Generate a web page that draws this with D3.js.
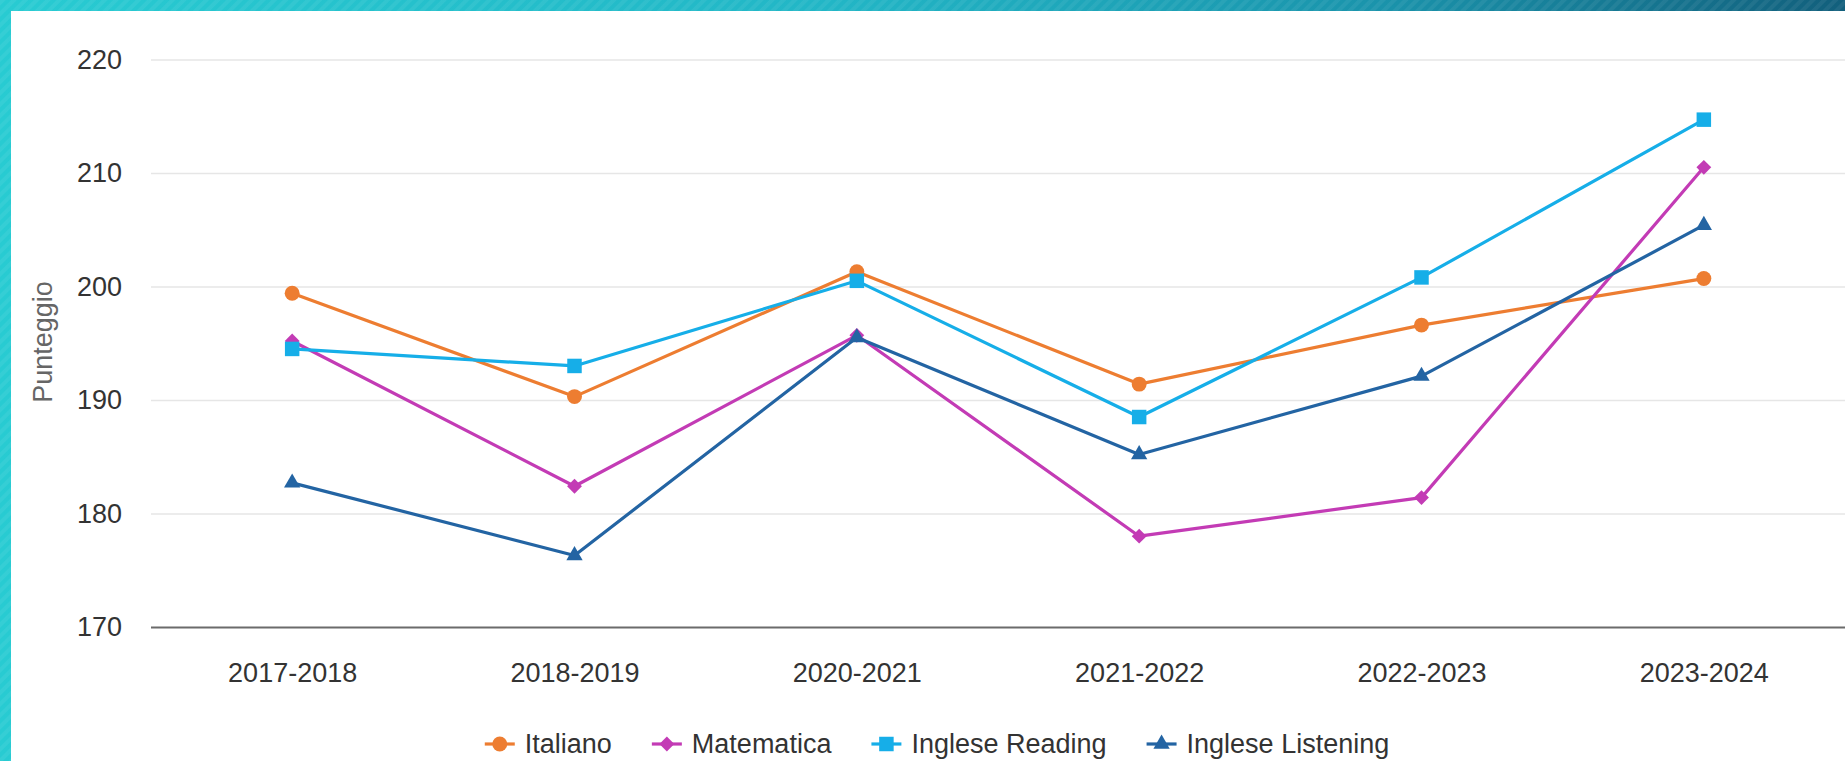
<!DOCTYPE html>
<html>
<head>
<meta charset="utf-8">
<script src="https://cdn.jsdelivr.net/npm/d3@7/dist/d3.min.js"></script>
<style>
  html, body { margin: 0; padding: 0; background: #fff; }
  svg { display: block; font-family: "Liberation Sans", Arial, sans-serif; }
</style>
</head>
<body>
<svg id="chart" width="1845" height="761"></svg>
<script>
// ---- data ----
const categories = ["2017-2018", "2018-2019", "2020-2021", "2021-2022", "2022-2023", "2023-2024"];
const italiano = [199.4, 190.3, 201.3, 191.4, 196.6, 200.7];
const matematica = [195.2, 182.4, 195.7, 178.0, 181.4, 210.5];
const ingleseReading = [194.5, 193.0, 200.5, 188.5, 200.8, 214.7];
const ingleseListening = [182.7, 176.3, 195.5, 185.2, 192.1, 205.4];
const seriesNames = ["Italiano", "Matematica", "Inglese Reading", "Inglese Listening"];
const yTicks = [170, 180, 190, 200, 210, 220];
const yTitle = "Punteggio";

const series = [
  { name: seriesNames[0], values: italiano, color: "#ED7D31", symbol: d3.symbolCircle, size: 175 },
  { name: seriesNames[1], values: matematica, color: "#C33BB5", symbol: d3.symbolDiamond2, size: 140 },
  { name: seriesNames[2], values: ingleseReading, color: "#16AEE8", symbol: d3.symbolSquare, size: 210 },
  { name: seriesNames[3], values: ingleseListening, color: "#2364A3", symbol: d3.symbolTriangle, size: 115 }
];

const W = 1845, H = 761;
const svg = d3.select("#chart");
const defs = svg.append("defs");

// background frame: teal gradient with diagonal stripes
const grad = defs.append("linearGradient").attr("id", "bg").attr("x1", 0).attr("y1", 0).attr("x2", 1).attr("y2", 0);
grad.append("stop").attr("offset", "0%").attr("stop-color", "#28cbd2");
grad.append("stop").attr("offset", "45%").attr("stop-color", "#22b6c6");
grad.append("stop").attr("offset", "75%").attr("stop-color", "#1a93ab");
grad.append("stop").attr("offset", "100%").attr("stop-color", "#125f7c");
const pat = defs.append("pattern").attr("id", "stripes").attr("width", 8).attr("height", 8)
  .attr("patternUnits", "userSpaceOnUse").attr("patternTransform", "rotate(45)");
pat.append("rect").attr("width", 4).attr("height", 8).attr("fill", "#ffffff").attr("opacity", 0.06);

svg.append("rect").attr("width", W).attr("height", H).attr("fill", "url(#bg)");
svg.append("rect").attr("width", W).attr("height", H).attr("fill", "url(#stripes)");
svg.append("rect").attr("x", 11).attr("y", 11).attr("width", W - 11).attr("height", H - 11).attr("fill", "#ffffff");

// scales
const x = d3.scalePoint().domain(categories).range([151, 1845]).padding(0.5);
const y = d3.scaleLinear().domain([170, 220]).range([627, 59.5]);

// gridlines + y tick labels
const yAxis = svg.append("g").attr("transform", "translate(151,0)")
  .call(d3.axisLeft(y).tickValues(yTicks).tickSize(-(1845 - 151)).tickPadding(29).tickFormat(d3.format("d")));
yAxis.select(".domain").remove();
yAxis.selectAll(".tick line").attr("stroke", d => d === 170 ? "#6b6b6b" : "#e6e6e6")
  .attr("stroke-width", d => d === 170 ? 2 : 1.6);
yAxis.selectAll(".tick text").attr("fill", "#333").attr("font-size", 27)
  .attr("font-family", "Liberation Sans, Arial, sans-serif");

// x axis labels
const xAxis = svg.append("g").attr("transform", "translate(0,627)")
  .call(d3.axisBottom(x).tickSize(0).tickPadding(0));
xAxis.select(".domain").remove();
xAxis.selectAll(".tick text").attr("fill", "#333").attr("font-size", 27)
  .attr("font-family", "Liberation Sans, Arial, sans-serif").attr("dy", null).attr("y", 55);

// y title
svg.append("text").attr("transform", "translate(52,342) rotate(-90)")
  .attr("text-anchor", "middle").attr("fill", "#666").attr("font-size", 27).text(yTitle);

// lines and markers
const line = d3.line().x((d, i) => x(categories[i])).y(d => y(d));
series.forEach(s => {
  svg.append("path").datum(s.values).attr("d", line).attr("fill", "none")
    .attr("stroke", s.color).attr("stroke-width", 3.2).attr("stroke-linejoin", "round");
  svg.append("g").selectAll("path").data(s.values).join("path")
    .attr("transform", (d, i) => `translate(${x(categories[i])},${y(d)})`)
    .attr("d", d3.symbol().type(s.symbol).size(s.size)).attr("fill", s.color);
});

// legend
const legend = svg.append("g");
let cx = 0;
const ly = 744;
series.forEach(s => {
  const g = legend.append("g").attr("transform", `translate(${cx},0)`);
  g.append("line").attr("x1", 0).attr("x2", 30).attr("y1", ly).attr("y2", ly)
    .attr("stroke", s.color).attr("stroke-width", 3.2);
  g.append("path").attr("transform", `translate(15,${ly})`)
    .attr("d", d3.symbol().type(s.symbol).size(s.size)).attr("fill", s.color);
  const t = g.append("text").attr("x", 40).attr("y", ly).attr("dy", "0.35em")
    .attr("font-size", 27).attr("fill", "#333").text(s.name);
  cx += 40 + t.node().getComputedTextLength() + 40;
});
const totalW = cx - 40;
legend.attr("transform", `translate(${937 - totalW / 2},0)`);
</script>
</body>
</html>
